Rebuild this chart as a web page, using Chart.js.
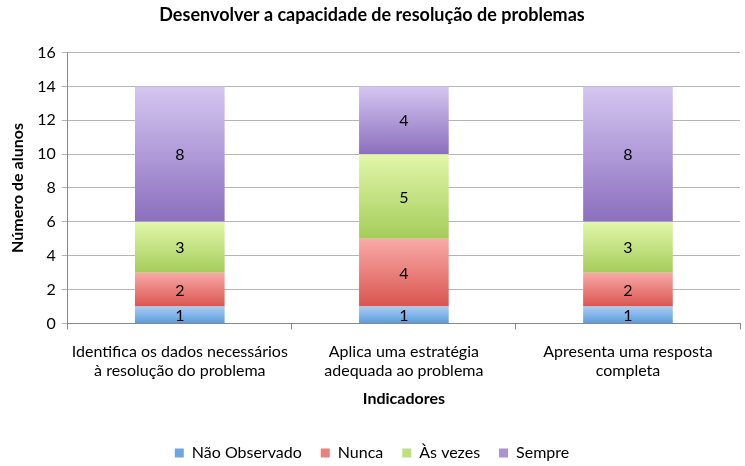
<!DOCTYPE html>
<html>
<head>
<meta charset="utf-8">
<script src="https://cdn.jsdelivr.net/npm/chart.js@4"></script>
<style>
  html, body { margin: 0; padding: 0; background: #fff; }
  #wrap { width: 745px; height: 466px; }
</style>
</head>
<body>
<div id="wrap"><canvas id="grafico"></canvas></div>
<script>
const categorias = [
  ['Identifica os dados necessários', 'à resolução do problema'],
  ['Aplica uma estratégia', 'adequada ao problema'],
  ['Apresenta uma resposta', 'completa']
];
const naoObservado = [1, 1, 1];
const nunca = [2, 4, 2];
const asVezes = [3, 5, 3];
const sempre = [8, 4, 8];

const series = [naoObservado, nunca, asVezes, sempre];
const nomes = ['Não Observado', 'Nunca', 'Às vezes', 'Sempre'];
// cores: [topo, base, legenda]
const cores = [
  ['#a9cdf3', '#5a9bdc', '#6fa6e0'],
  ['#f9aaa8', '#d9554f', '#e8807c'],
  ['#e2f7ab', '#a5cc5a', '#bfe07e'],
  ['#d5c6f1', '#8b6fbe', '#a993d4']
];

const fonte = 'Lato, "Open Sans", sans-serif';

function gradiente(ctx, i) {
  const chart = ctx.chart;
  const y = chart.scales.y;
  if (!y || ctx.dataIndex === undefined) return cores[i][2];
  let inicio = 0;
  for (let k = 0; k < i; k++) inicio += series[k][ctx.dataIndex];
  const fim = inicio + series[i][ctx.dataIndex];
  const y0 = y.getPixelForValue(inicio);
  const y1 = y.getPixelForValue(fim);
  if (!isFinite(y0) || !isFinite(y1)) return cores[i][2];
  const g = chart.ctx.createLinearGradient(0, y1, 0, y0);
  g.addColorStop(0, cores[i][0]);
  g.addColorStop(1, cores[i][1]);
  return g;
}

const rotulos = {
  id: 'rotulos',
  afterDatasetsDraw(chart) {
    const c = chart.ctx;
    c.save();
    c.font = '16px ' + fonte;
    c.fillStyle = '#000';
    c.textAlign = 'center';
    c.textBaseline = 'middle';
    chart.data.datasets.forEach((ds, i) => {
      chart.getDatasetMeta(i).data.forEach((bar, j) => {
        const meio = (bar.y + bar.base) / 2;
        c.fillText(ds.data[j], bar.x, meio + 1);
      });
    });
    c.restore();
  }
};

new Chart(document.getElementById('grafico'), {
  type: 'bar',
  data: {
    labels: categorias,
    datasets: series.map((valores, i) => ({
      label: nomes[i],
      data: valores,
      backgroundColor: ctx => gradiente(ctx, i),
      borderWidth: 0,
      categoryPercentage: 1,
      barPercentage: 0.4
    }))
  },
  options: {
    responsive: true,
    maintainAspectRatio: false,
    animation: false,
    layout: { padding: { left: 4, right: 5, top: 0, bottom: -5 } },
    scales: {
      x: {
        stacked: true,
        grid: { offset: true, drawOnChartArea: false, color: '#888', tickLength: 6 },
        border: { color: '#888' },
        ticks: { color: '#000', font: { family: fonte, size: 16 }, padding: 13, maxRotation: 0 },
        title: { display: true, text: 'Indicadores', color: '#000', font: { family: fonte, size: 16, weight: 'bold' }, padding: { top: -5, bottom: 18 } }
      },
      y: {
        stacked: true,
        min: 0,
        max: 16,
        ticks: { stepSize: 2, color: '#000', font: { family: fonte, size: 16 }, padding: 6 },
        grid: { color: '#b5b5b5', tickLength: 6 },
        border: { color: '#888' },
        title: { display: true, text: 'Número de alunos', color: '#000', font: { family: fonte, size: 16, weight: 'bold' }, padding: { bottom: 4 } }
      }
    },
    plugins: {
      title: {
        display: true,
        text: 'Desenvolver a capacidade de resolução de problemas',
        color: '#000',
        font: { family: fonte, size: 18, weight: 'bold' },
        padding: { top: 4, bottom: 27 }
      },
      legend: {
        position: 'bottom',
        labels: {
          color: '#000',
          font: { family: fonte, size: 16 },
          boxWidth: 9,
          boxHeight: 9,
          padding: 19,
          generateLabels: chart => nomes.map((n, i) => ({
            text: n,
            fillStyle: cores[i][2],
            strokeStyle: cores[i][2],
            lineWidth: 0,
            datasetIndex: i
          }))
        }
      },
      tooltip: { enabled: false }
    }
  },
  plugins: [rotulos]
});
</script>
</body>
</html>
